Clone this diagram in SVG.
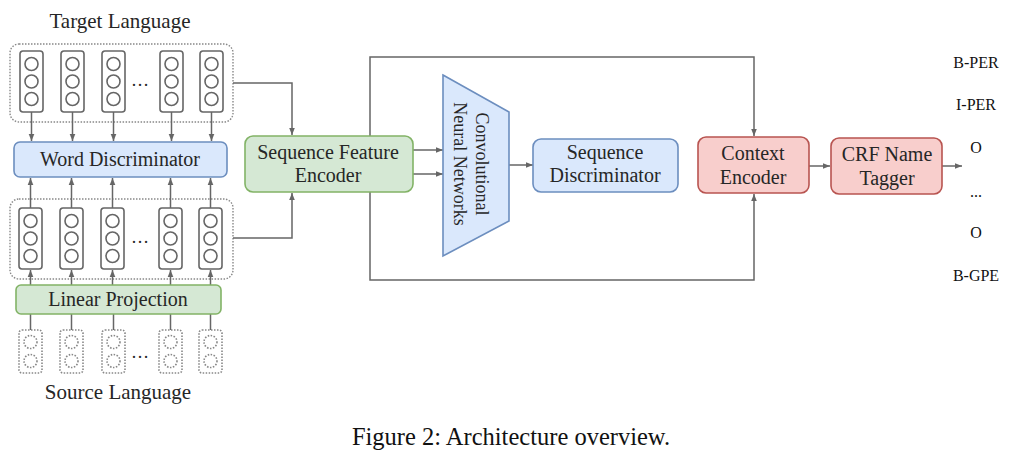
<svg xmlns="http://www.w3.org/2000/svg" width="1024" height="461" viewBox="0 0 1024 461">
<style>
.t{font-family:"Liberation Serif","Times New Roman",serif;fill:#262626;text-anchor:middle}
.lbl{font-family:"Liberation Serif","Times New Roman",serif;fill:#111;text-anchor:middle;font-size:16px}
.vec{fill:#fff;stroke:#666;stroke-width:1.6}
.dvec{fill:none;stroke:#888;stroke-width:1.6;stroke-dasharray:1.5 1.5}
.cont{fill:none;stroke:#888;stroke-width:1.4;stroke-dasharray:1.5 1.5}
.blue{fill:#dae8fc;stroke:#6c8ebf;stroke-width:1.6}
.green{fill:#d5e8d4;stroke:#82b366;stroke-width:1.6}
.red{fill:#f8cecc;stroke:#b85450;stroke-width:1.6}
.ln{fill:none;stroke:#666;stroke-width:1.5}
.ar{fill:none;stroke:#666;stroke-width:1.5;marker-end:url(#ah)}
</style>
<defs>
<marker id="ah" markerUnits="userSpaceOnUse" markerWidth="8" markerHeight="8" viewBox="0 0 8 8" refX="7" refY="4" orient="auto">
<path d="M0,1.2 L7,4 L0,6.8 Z" fill="#666"/>
</marker>
<g id="v3">
<rect class="vec" x="0" y="0" width="23" height="61" rx="3"/>
<circle class="vec" cx="11.5" cy="13" r="6.5"/>
<circle class="vec" cx="11.5" cy="30.5" r="6.5"/>
<circle class="vec" cx="11.5" cy="48" r="6.5"/>
</g>
<g id="dv">
<rect class="dvec" x="0" y="0" width="23" height="43" rx="3"/>
<circle class="dvec" cx="11.5" cy="12" r="6.5"/>
<circle class="dvec" cx="11.5" cy="31" r="6.5"/>
</g>
</defs>
<rect width="1024" height="461" fill="#fff"/>

<g id="target-language">
<text class="t" x="120" y="28" font-size="21">Target Language</text>
<rect class="cont" x="10" y="44" width="223" height="78" rx="9"/>
<use href="#v3" x="20" y="51"/>
<use href="#v3" x="61" y="51"/>
<use href="#v3" x="102" y="51"/>
<use href="#v3" x="160" y="51"/>
<use href="#v3" x="200" y="51"/>
<text class="t" x="140" y="86" font-size="18" fill="#777">…</text>
</g>

<g id="source-embedded">
<rect class="cont" x="10" y="199" width="223" height="80" rx="9"/>
<use href="#v3" x="19" y="208"/>
<use href="#v3" x="60" y="208"/>
<use href="#v3" x="101" y="208"/>
<use href="#v3" x="159" y="208"/>
<use href="#v3" x="199" y="208"/>
<text class="t" x="140" y="243" font-size="18" fill="#777">…</text>
</g>

<g id="source-language">
<use href="#dv" x="19" y="330"/>
<use href="#dv" x="60" y="330"/>
<use href="#dv" x="102" y="330"/>
<use href="#dv" x="159" y="330"/>
<use href="#dv" x="199" y="330"/>
<text class="t" x="140" y="358" font-size="18" fill="#777">…</text>
<text class="t" x="118" y="399" font-size="21">Source Language</text>
</g>

<g id="connectors">
<path class="ar" d="M31.5,112 V141"/>
<path class="ar" d="M72.5,112 V141"/>
<path class="ar" d="M113.5,112 V141"/>
<path class="ar" d="M171.5,112 V141"/>
<path class="ar" d="M211.5,112 V141"/>
<path class="ar" d="M30.5,208 V178"/>
<path class="ar" d="M71.5,208 V178"/>
<path class="ar" d="M112.5,208 V178"/>
<path class="ar" d="M170.5,208 V178"/>
<path class="ar" d="M210.5,208 V178"/>
<path class="ar" d="M30.5,285 V270"/>
<path class="ar" d="M71.5,285 V270"/>
<path class="ar" d="M112.5,285 V270"/>
<path class="ar" d="M170.5,285 V270"/>
<path class="ar" d="M210.5,285 V270"/>
<path class="ln" d="M30.5,330 V314"/>
<path class="ln" d="M71.5,330 V314"/>
<path class="ln" d="M113.5,330 V314"/>
<path class="ln" d="M170.5,330 V314"/>
<path class="ln" d="M210.5,330 V314"/>
<path class="ar" d="M233,83 H292 V135"/>
<path class="ar" d="M233,238 H292 V193"/>
<path class="ar" d="M413,150 H443"/>
<path class="ar" d="M413,174 H443"/>
<path class="ar" d="M509,165 H533"/>
<path class="ar" d="M370,136 V57 H754 V136"/>
<path class="ar" d="M370,192 V280 H754 V194"/>
<path class="ar" d="M809,166 H830"/>
<path class="ar" d="M942,166 H962"/>
</g>

<g id="word-discriminator">
<rect class="blue" x="14" y="142" width="213" height="35" rx="6"/>
<text class="t" x="120" y="166" font-size="20">Word Discriminator</text>
</g>

<g id="linear-projection">
<rect class="green" x="16" y="285" width="205" height="29" rx="5"/>
<text class="t" x="118" y="306" font-size="20">Linear Projection</text>
</g>

<g id="sequence-feature-encoder">
<rect class="green" x="245" y="136" width="168" height="56" rx="8"/>
<text class="t" x="328" y="159" font-size="20">Sequence Feature</text>
<text class="t" x="328" y="182" font-size="20">Encoder</text>
</g>

<g id="cnn">
<path class="blue" d="M443,75 L509,112 L509,221 L443,256 Z"/>
<text class="t" font-size="18" transform="translate(476,164) rotate(90)">Convolutional</text>
<text class="t" font-size="18" transform="translate(454,164) rotate(90)">Neural Networks</text>
</g>

<g id="sequence-discriminator">
<rect class="blue" x="533" y="139" width="145" height="53" rx="8"/>
<text class="t" x="605" y="159" font-size="20">Sequence</text>
<text class="t" x="605" y="182" font-size="20">Discriminator</text>
</g>

<g id="context-encoder">
<rect class="red" x="698" y="137" width="111" height="56" rx="8"/>
<text class="t" x="753" y="160" font-size="20">Context</text>
<text class="t" x="753" y="184" font-size="20">Encoder</text>
</g>

<g id="crf-name-tagger">
<rect class="red" x="831" y="138" width="111" height="56" rx="8"/>
<text class="t" x="887" y="161" font-size="20">CRF Name</text>
<text class="t" x="887" y="185" font-size="20">Tagger</text>
</g>

<g id="labels">
<text class="lbl" x="976" y="68">B-PER</text>
<text class="lbl" x="976" y="110">I-PER</text>
<text class="lbl" x="976" y="153">O</text>
<text class="lbl" x="976" y="197">...</text>
<text class="lbl" x="976" y="238">O</text>
<text class="lbl" x="976" y="281">B-GPE</text>
</g>

<text x="511" y="445" font-family="Liberation Serif, Times New Roman, serif" font-size="24.5" fill="#111" text-anchor="middle">Figure 2: Architecture overview.</text>
</svg>
